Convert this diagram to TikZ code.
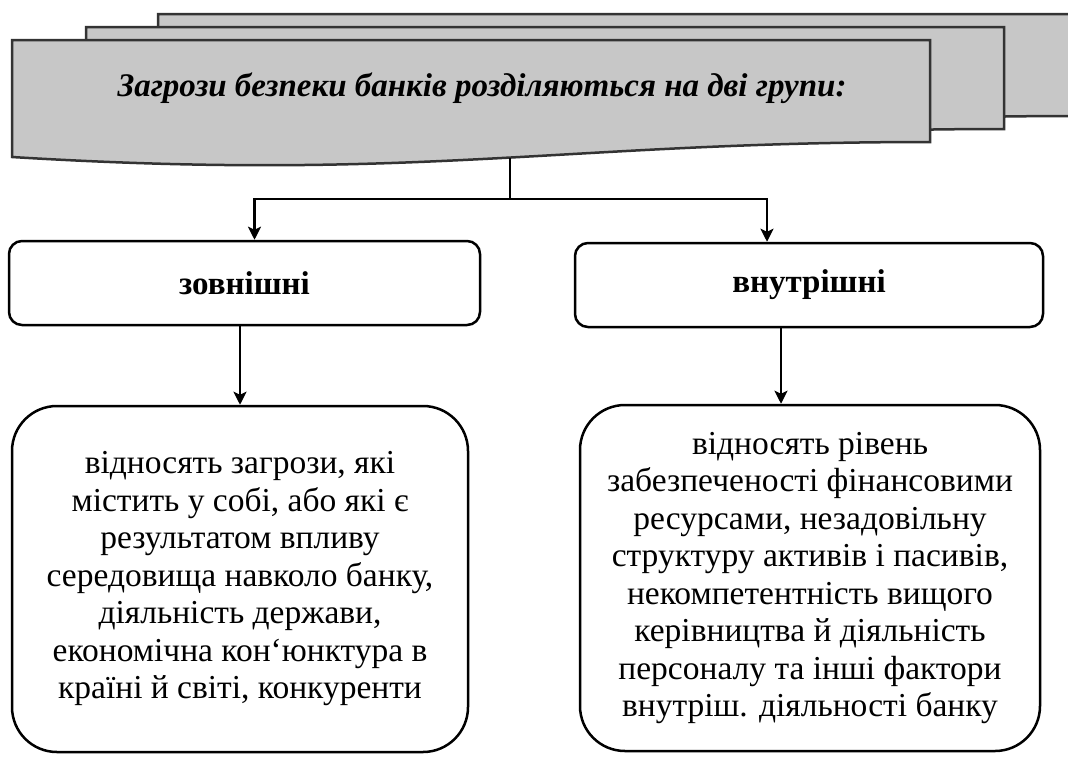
\documentclass[tikz,border=0pt]{standalone}
\usepackage{fontspec}
\setmainfont{Liberation Serif}
\usetikzlibrary{arrows.meta,positioning}
\tikzset{
  sheet/.style={draw=black!80, line width=2.5pt, fill=black!22},
  grpbox/.style={rectangle, draw=black, line width=2.5pt, rounded corners=13pt,
                 minimum width=#1, minimum height=84pt,
                 font=\fontsize{33}{37}\selectfont\bfseries},
  descbox/.style={rectangle, draw=black, line width=2.5pt, rounded corners=45pt,
                  minimum width=#1, minimum height=346pt, align=center,
                  font=\fontsize{33.5}{37.5}\selectfont},
  arr/.style={-{Stealth[length=13pt, width=13pt, inset=3pt]}, line width=2.5pt},
}

\begin{document}
\begin{tikzpicture}[x=1pt, y=-1pt]
  \clip (0,0) rectangle (1068,756);
  \fill[white] (0,0) rectangle (1068,756);
  % banner sheets, back to front
  \foreach \dx/\dy in {146/-26, 74/-13, 0/0} {
    \filldraw[sheet, shift={(\dx,\dy)}]
      (12,40) -- (930,40) -- (930,142)
      .. controls (560,142) and (420,182) .. (12,157) -- cycle;
  }
  \node[font=\fontsize{33}{37}\selectfont\bfseries\itshape] (title) at (482,88)
    {Загрози безпеки банків розділяються на дві групи:};
  \coordinate (split) at (510,158);
  \coordinate (hub) at (510,199);
  % groups
  \node[grpbox=471pt] (ext) at (244.5,283) {зовнішні};
  \node[grpbox=468pt] (int) at (809,285) {внутрішні};
  % descriptions
  \node[descbox=456pt] (extd) at (240,579)
    {відносять загрози, які\\ містить у собі, або які є\\ результатом впливу\\
     середовища навколо банку,\\ діяльність держави,\\
     економічна кон`юнктура в\\ країні й світі, конкуренти};
  \node[descbox=460pt] (intd) at (810,578)
    {відносять рівень\\ забезпеченості фінансовими\\ ресурсами, незадовільну\\
     структуру активів і пасивів,\\ некомпетентність вищого\\
     керівництва й діяльність\\ персоналу та інші фактори\\
     внутріш. діяльності банку};
  % connectors
  \draw[line width=2.5pt] (split) -- (hub);
  \draw[arr] (hub) -| ([xshift=10pt]ext.north);
  \draw[arr] (hub) -| ([xshift=-42pt]int.north);
  \draw[arr] (extd.north |- ext.south) -- (extd.north);
  \draw[arr] ([xshift=-28pt]int.south) -- ([xshift=-28pt]int.south |- intd.north);
\end{tikzpicture}
\end{document}
